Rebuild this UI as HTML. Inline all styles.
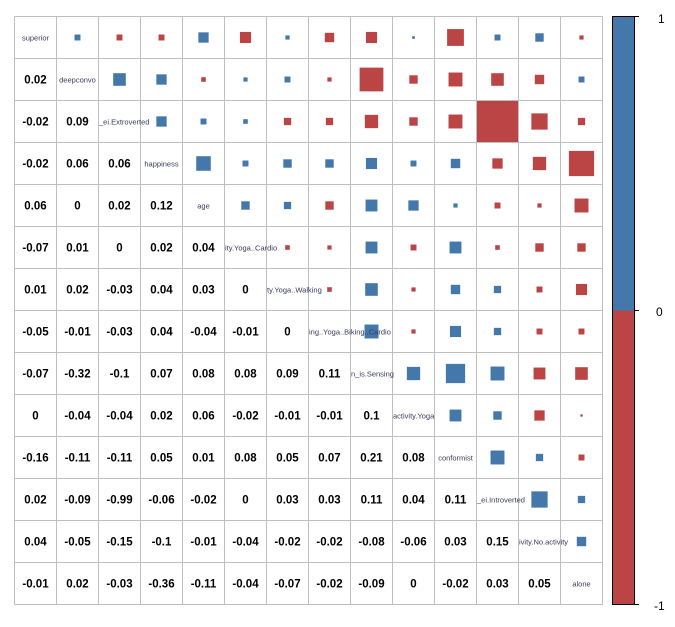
<!DOCTYPE html>
<html><head><meta charset="utf-8"><style>
html,body{margin:0;padding:0;background:#fff;width:675px;height:627px;overflow:hidden}
svg{display:block}
</style></head><body>
<svg id="s" width="675" height="627" xmlns="http://www.w3.org/2000/svg" font-family="Liberation Sans, sans-serif"></svg>
<script>
var L=[[],
[0.02],
[-0.02,0.09],
[-0.02,0.06,0.06],
[0.06,0,0.02,0.12],
[-0.07,0.01,0,0.02,0.04],
[0.01,0.02,-0.03,0.04,0.03,0],
[-0.05,-0.01,-0.03,0.04,-0.04,-0.01,0],
[-0.07,-0.32,-0.1,0.07,0.08,0.08,0.09,0.11],
[0,-0.04,-0.04,0.02,0.06,-0.02,-0.01,-0.01,0.1],
[-0.16,-0.11,-0.11,0.05,0.01,0.08,0.05,0.07,0.21,0.08],
[0.02,-0.09,-0.99,-0.06,-0.02,0,0.03,0.03,0.11,0.04,0.11],
[0.04,-0.05,-0.15,-0.1,-0.01,-0.04,-0.02,-0.02,-0.08,-0.06,0.03,0.15],
[-0.01,0.02,-0.03,-0.36,-0.11,-0.04,-0.07,-0.02,-0.09,0,-0.02,0.03,0.05]];
var Z={"1,4":-0.012,"2,5":0.012,"5,6":-0.012,"6,7":-0.012,"0,9":0.004,"5,11":-0.012,"9,13":-0.003};
var labels=["superior","deepconvo","_ei.Extroverted","happiness","age","ity.Yoga..Cardio","ty.Yoga..Walking","ing..Yoga..Biking..Cardio","n_is.Sensing","activity.Yoga","conformist","_ei.Introverted","ivity.No.activity","alone"];
var x0=14.5,y0=16.5,c=42,h='';
for(var r=0;r<14;r++)for(var col=0;col<14;col++){
 var cx=x0+col*c+c/2,cy=y0+r*c+c/2;
 if(col<r){var v=L[r][col];h+='<text x="'+cx+'" y="'+(cy+4)+'" text-anchor="middle" font-size="11.5" font-weight="bold" fill="#000">'+v+'</text>';}
 else if(col>r){var v=L[col][r];var k=r+','+col;if(v===0&&Z[k]!==undefined)v=Z[k];
  var s=Math.max(2,c*Math.sqrt(Math.abs(v)));if(s>c)s=c;
  h+='<rect x="'+(cx-s/2)+'" y="'+(cy-s/2)+'" width="'+s+'" height="'+s+'" fill="'+(v>=0?'#4477aa':'#bb4444')+'"/>';}
}
for(var i=0;i<=14;i++){h+='<line x1="'+(x0+i*c)+'" y1="'+y0+'" x2="'+(x0+i*c)+'" y2="'+(y0+14*c)+'" stroke="#bfbfbf" stroke-width="1"/>';
 h+='<line x1="'+x0+'" y1="'+(y0+i*c)+'" x2="'+(x0+14*c)+'" y2="'+(y0+i*c)+'" stroke="#bfbfbf" stroke-width="1"/>';}
for(var r=0;r<14;r++){
 var cx=x0+r*c+c/2,cy=y0+r*c+c/2,lab=labels[r];
 if(lab.length*3.6>c-2) h+='<text x="'+(x0+r*c+0.5)+'" y="'+(cy+3)+'" font-size="7.5" fill="#3a3a5a">'+lab+'</text>';
 else h+='<text x="'+cx+'" y="'+(cy+3)+'" text-anchor="middle" font-size="7.5" fill="#3a3a5a">'+lab+'</text>';
}
h+='<rect x="612.5" y="16.5" width="22" height="294" fill="#4477aa"/>';
h+='<rect x="612.5" y="310.5" width="22" height="294" fill="#bb4444"/>';
h+='<rect x="612.5" y="16.5" width="22" height="588" fill="none" stroke="#000" stroke-width="1"/>';
h+='<line x1="634.5" y1="16.5" x2="639" y2="16.5" stroke="#000"/><line x1="634.5" y1="310.5" x2="639" y2="310.5" stroke="#000"/><line x1="634.5" y1="604.5" x2="639" y2="604.5" stroke="#000"/>';
h+='<text x="658" y="23" font-size="12" fill="#000">1</text><text x="656" y="316" font-size="12" fill="#000">0</text><text x="654" y="610" font-size="12" fill="#000">-1</text>';
document.getElementById('s').innerHTML=h;
</script>
</body></html>
